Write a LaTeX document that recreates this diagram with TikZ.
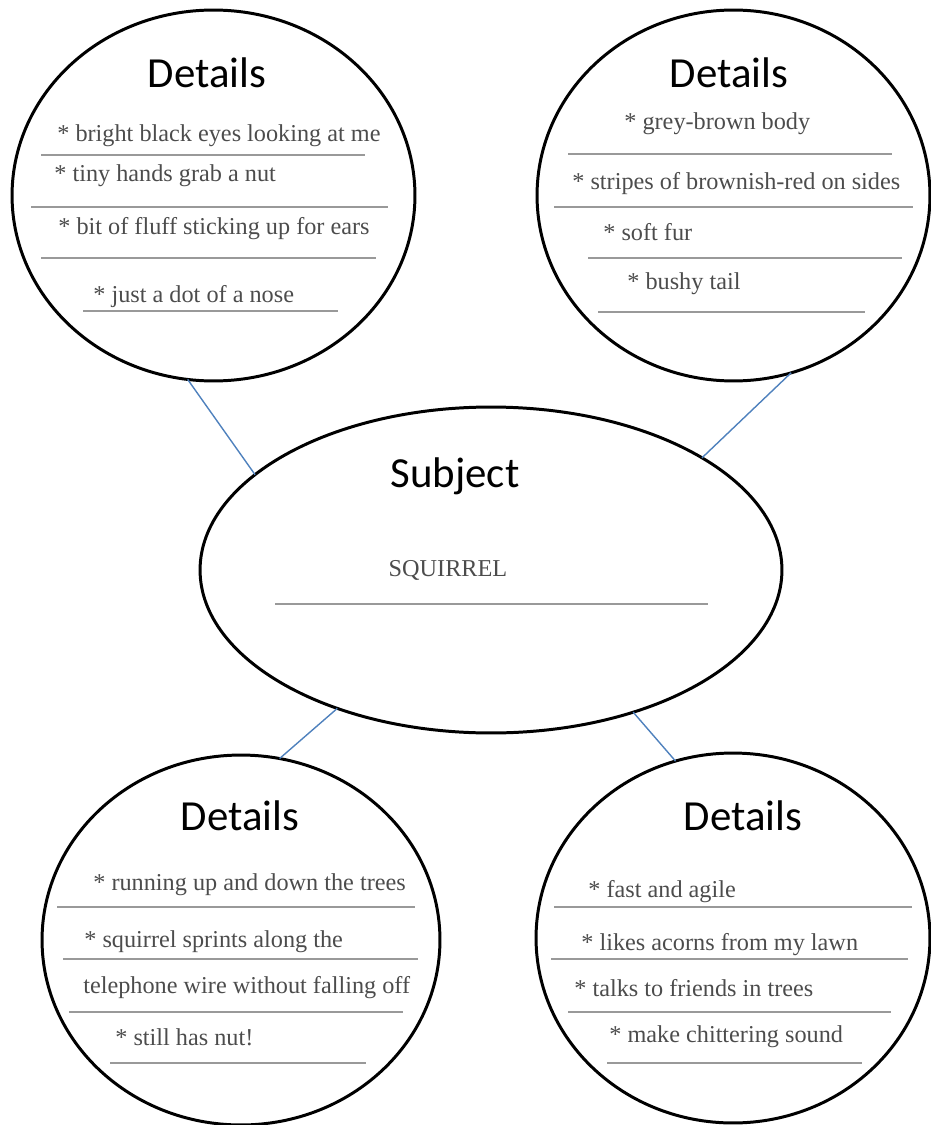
\documentclass[tikz,border=0pt]{standalone}
\usepackage{fontspec}
\setmainfont{Liberation Serif}
\newfontfamily\headfont{Carlito}
\usetikzlibrary{shapes.geometric}
\definecolor{linkblue}{HTML}{4F81BD}
\begin{document}
\begin{tikzpicture}[
        x=0.02cm, y=-0.02cm,
        bubble/.style={ellipse, draw, line width=1.7pt, inner sep=0pt, outer sep=0pt},
        head/.style={anchor=base, inner sep=0pt, font=\headfont\fontsize{24.4}{28}\selectfont},
        item/.style={anchor=base west, inner sep=0pt, text=black!70, font=\fontsize{13.8}{16}\selectfont},
        rule/.style={draw=black!40, line width=0.8pt},
        link/.style={draw=linkblue, line width=0.8pt}
    ]
        \useasboundingbox (0,0) rectangle (930,1125);

        % bubbles
        \node[bubble, minimum width=8.06cm, minimum height=7.42cm] (tl) at (213.5,195.5) {};
        \node[bubble, minimum width=7.86cm, minimum height=7.42cm] (tr) at (733.5,195.5) {};
        \node[bubble, minimum width=11.64cm, minimum height=6.52cm] (subj) at (491,570) {};
        \node[bubble, minimum width=7.96cm, minimum height=7.4cm] (bl) at (241,940) {};
        \node[bubble, minimum width=7.88cm, minimum height=7.4cm] (br) at (733,938) {};

        % connectors
        \draw[link] (tl.-98) -- (subj.158);
        \draw[link] (tr.-72) -- (subj.28);
        \draw[link] (subj.-138) -- (bl.78);
        \draw[link] (subj.-45) -- (br.108);

        % subject
        \node[head] (subjhead) at (455,487) {Subject};
        \node[item, anchor=base] (subjname) at (448,576) {SQUIRREL};
        \draw[rule] (275,604) -- (708,604);

        % top left
        \node[head] (tlhead) at (207,88) {Details};
        \node[item] (tl1) at (57,142) {* bright black eyes looking at me};
        \draw[rule] (41,155) -- (365,155);
        \node[item] (tl2) at (54,182) {* tiny hands grab a nut};
        \draw[rule] (31,207) -- (388,207);
        \node[item] (tl3) at (58,235) {* bit of fluff sticking up for ears};
        \draw[rule] (41,258) -- (376,258);
        \node[item] (tl4) at (93,302) {* just a dot of a nose};
        \draw[rule] (83,311) -- (338,311);

        % top right
        \node[head] (trhead) at (729,88) {Details};
        \node[item] (tr1) at (624,130) {* grey-brown body};
        \draw[rule] (568,154) -- (892,154);
        \node[item] (tr2) at (572,190) {* stripes of brownish-red on sides};
        \draw[rule] (554,207) -- (913,207);
        \node[item] (tr3) at (603,240) {* soft fur};
        \draw[rule] (588,258) -- (902,258);
        \node[item] (tr4) at (627,289) {* bushy tail};
        \draw[rule] (598,312) -- (865,312);

        % bottom left
        \node[head] (blhead) at (240,830) {Details};
        \node[item] (bl1) at (93,890) {* running up and down the trees};
        \draw[rule] (57,907) -- (415,907);
        \node[item] (bl2) at (84,947) {* squirrel sprints along the};
        \draw[rule] (63,959) -- (418,959);
        \node[item] (bl3) at (83,993) {telephone wire without falling off};
        \draw[rule] (69,1012) -- (403,1012);
        \node[item] (bl4) at (115,1045) {* still has nut!};
        \draw[rule] (110,1063) -- (366,1063);

        % bottom right
        \node[head] (brhead) at (743,830) {Details};
        \node[item] (br1) at (588,897) {* fast and agile};
        \draw[rule] (554,907) -- (912,907);
        \node[item] (br2) at (581,950) {* likes acorns from my lawn};
        \draw[rule] (551,959) -- (908,959);
        \node[item] (br3) at (574,996) {* talks to friends in trees};
        \draw[rule] (568,1012) -- (891,1012);
        \node[item] (br4) at (609,1042) {* make chittering sound};
        \draw[rule] (607,1063) -- (862,1063);
    \end{tikzpicture}
\end{document}
